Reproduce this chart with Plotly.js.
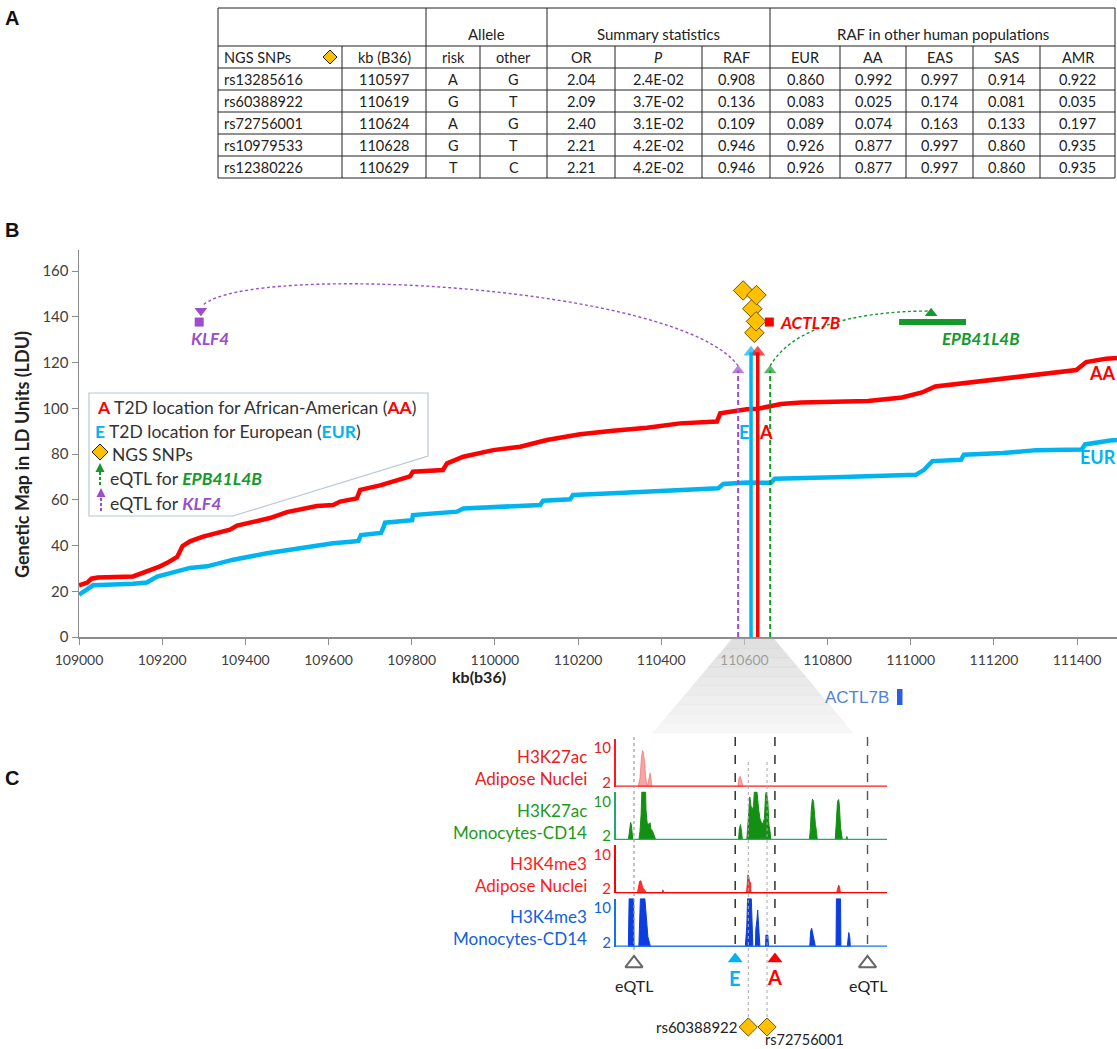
<!DOCTYPE html>
<html><head><meta charset="utf-8">
<script src="https://cdn.plot.ly/plotly-3.0.1.min.js"></script>
<style>html,body{margin:0;padding:0;background:#fff;}#chart{width:1117px;height:1049px;}</style>
</head><body><div id="chart"></div>
<script>
const W=1117,H=1049;
const px=x=>x/W, py=y=>1-y/H;
const F='Lato, "Open Sans", sans-serif';
const FA='"Liberation Sans", Arial, sans-serif';
const RED='#ff0000', CYAN='#00b4f0', PURPLE='#9b4dca', GREEN='#139a2a', GOLD='#ffc000', DARK='#333333';

// ---------- Panel A data ----------
const snpIds=['rs13285616','rs60388922','rs72756001','rs10979533','rs12380226'];
const snpKb=[110597,110619,110624,110628,110629];
const riskAllele=['A','G','A','G','T'];
const otherAllele=['G','T','G','T','C'];
const oddsRatio=[2.04,2.09,2.40,2.21,2.21];
const pValue=['2.4E-02','3.7E-02','3.1E-02','4.2E-02','4.2E-02'];
const rafCase=[0.908,0.136,0.109,0.946,0.946];
const rafEUR=[0.860,0.083,0.089,0.926,0.926];
const rafAA=[0.992,0.025,0.074,0.877,0.877];
const rafEAS=[0.997,0.174,0.163,0.997,0.997];
const rafSAS=[0.914,0.081,0.133,0.860,0.860];
const rafAMR=[0.922,0.035,0.197,0.935,0.935];
const headerLabels=['NGS SNPs','kb (B36)','risk','other','OR','<i>P</i>','RAF','EUR','AA','EAS','SAS','AMR'];
const groupLabels=['Allele','Summary statistics','RAF in other human populations'];

// ---------- Panel B data ----------
const aaKb=[109000,109020,109030,109045,109130,109154,109178,109195,109212,109236,109249,109267,109298,109363,109380,109435,109459,109500,109539,109572,109611,109628,109668,109676,109724,109796,109803,109875,109885,109924,109996,110061,110125,110205,110284,110366,110445,110534,110542,110606,110633,110688,110736,110897,110979,111027,111059,111124,111237,111398,111422,111470,111496];
const aaLdu=[22.6,23.8,25.5,26.0,26.5,28.1,29.6,30.9,32.4,35.0,39.8,41.8,43.9,46.9,48.7,51.1,52.0,54.6,55.9,57.3,57.7,59.2,60.6,64.3,66.3,70.2,72.3,73.0,75.9,78.8,81.7,83.2,86.1,88.6,90.2,91.5,93.4,94.2,97.8,99.6,99.8,101.9,102.5,103.2,104.7,106.9,109.5,110.9,113.5,116.7,120.2,121.7,122.0];
const eurKb=[109000,109022,109034,109130,109163,109188,109226,109267,109308,109371,109452,109532,109611,109660,109672,109678,109726,109731,109736,109801,109803,109909,109924,110109,110116,110181,110188,110284,110405,110537,110549,110606,110664,110673,110818,111012,111032,111052,111121,111128,111222,111302,111411,111419,111480,111496];
const eurLdu=[18.5,21.2,22.6,23.3,23.8,26.4,28.4,30.2,30.9,33.8,36.6,39.0,41.0,41.8,42.0,44.6,45.5,47.4,50.0,51.1,53.3,54.8,56.2,57.7,59.6,60.2,62.1,62.8,63.8,65.0,66.9,67.5,67.4,69.2,69.8,70.9,73.1,76.9,77.5,79.7,80.4,81.7,82.0,84.2,85.9,86.1];
const snpStackLdu=[151.5,143.5,133.0,138.0,149.5];
const t2dKb=[110616,110632];            // E (EUR), A (AA)
const t2dTopLdu=[124.5,124.5];
const eqtlKb=[110585,110662];           // KLF4 eQTL, EPB41L4B eQTL
const eqtlTopLdu=[116.5,116.5];
const geneRowLdu=137.7;
const klf4Kb=109289, actl7bKb=110660, epbKb=[110972,111133];
const xTicks=[109000,109200,109400,109600,109800,110000,110200,110400,110600,110800,111000,111200,111400];
const yTicks=[0,20,40,60,80,100,120,140,160];

// ---------- Panel C data ----------
const t1Pos=[110589.6,110590.1,110590.5,110590.8,110591.0,110591.3,110591.6,110591.8,110592.1,110592.5,110592.8,110593.0,110593.3,110616.2,110616.5,110616.8,110617.2,110617.6];
const t1Val=[1,3,8,9.4,9,7,3.5,2,1.3,3.5,4.2,3,1,1,3.0,3.4,2.5,1];
const t2Pos=[110587.0,110587.3,110587.6,110587.8,110588.1,110588.2,110589.8,110590.1,110590.4,110590.6,110591.6,110591.7,110592.0,110592.5,110592.8,110593.0,110593.4,110593.8,110594.2,110594.6,110616.4,110616.6,110616.9,110617.2,110617.4,110618.6,110618.9,110619.0,110619.3,110619.4,110619.7,110620.0,110620.4,110620.6,110621.3,110621.6,110621.8,110622.1,110622.5,110622.9,110623.3,110623.6,110623.8,110624.2,110624.5,110624.8,110625.0,110635.3,110635.6,110635.8,110636.1,110636.4,110636.6,110636.9,110637.2,110637.4,110642.2,110642.5,110642.8,110643.1,110643.3,110643.6,110643.8,110644.1,110645.0,110645.3,110645.6];
const t2Val=[1,3,5.1,4.5,1.5,1,1,3,6.9,12.2,12.2,8,5,4.6,5,3.5,3.2,2,1.3,1,1,3.5,4.6,3,1,1,5,6.4,9,11,9,7.8,9,12.2,12.2,9,7.8,6,5,4.8,6,11.5,12.2,10,4.5,3,1,1,4,8,10.5,10,7,4.6,3,1,1,5,10,10.4,9,4,2.5,1,1,1.8,1];
const t3Pos=[110589.4,110589.7,110590.0,110590.3,110590.5,110590.8,110591.2,110591.6,110592.0,110596.0,110596.2,110596.5,110618.5,110618.7,110618.9,110619.1,110619.3,110619.6,110619.7,110642.5,110642.8,110643.1,110643.3,110643.6];
const t3Val=[1,2.5,3.8,3.9,3.5,2.3,1.8,1.4,1,1,1.8,1,1,3,5.3,5.0,3.8,3.5,1,1,2.2,2.9,2.6,1];
const t4Pos=[110587.0,110587.2,110588.4,110588.5,110589.8,110590.0,110590.2,110591.4,110591.7,110592.0,110592.2,110592.6,110592.9,110618.2,110618.4,110618.6,110618.8,110619.8,110620.1,110620.2,110620.9,110621.0,110621.3,110621.5,110621.7,110622.0,110622.1,110623.6,110623.7,110624.2,110624.4,110635.4,110635.6,110635.9,110636.2,110636.5,110636.9,110642.4,110642.5,110643.6,110643.7,110645.4,110645.6,110645.8,110646.1,110646.2];
const t4Val=[1,12.2,12.2,1,1,7,12.2,12.2,8,5.6,3.3,2,1,1,3.9,5.8,12.2,12.2,4,1,1,5,7.2,9.5,6.5,3,1,1,3.7,3.7,1,1,4.5,5.3,4,2.5,1,1,12.2,12.2,1,1,3.5,4.3,3,1];
const trackNames=[['H3K27ac','Adipose Nuclei'],['H3K27ac','Monocytes-CD14'],['H3K4me3','Adipose Nuclei'],['H3K4me3','Monocytes-CD14']];
const cEqtlKb=[110588.5,110650.8];
const cT2dKb=[110615.5,110626.1];     // E, A
const cSnpKb=[110619,110624];
const cSnpNames=['rs60388922','rs72756001'];

// ---------- layout geometry ----------
const trackBase=[786.7,840,893.3,946.7];
const trackH=48.2;
const trackFill=['rgba(238,90,90,0.55)','#138f13','rgba(255,25,25,0.9)','#0b3de0'];
const trackAxis=['#ff1a1a','#22aa6e','#ff0000','#1a72e0'];
const trackLabel=['#e8201a','#1a9a1a','#ff1a1a','#1060e0'];
const colEdges=[218,342,426,480,547,615,702,770,840,906,973,1040,1115];
const groupCols=[[2,3],[4,6],[7,11]];
const tblTop=8, grpBottom=46, rowH=22;

const traces=[];
traces.push({type:'scatter',mode:'lines',x:aaKb,y:aaLdu,line:{color:RED,width:4.5},xaxis:'x',yaxis:'y',hoverinfo:'skip'});
traces.push({type:'scatter',mode:'lines',x:eurKb,y:eurLdu,line:{color:CYAN,width:4.5},xaxis:'x',yaxis:'y',hoverinfo:'skip'});
traces.push({type:'scatter',mode:'markers',x:t2dKb.concat(eqtlKb),y:t2dTopLdu.concat(eqtlTopLdu),
  marker:{symbol:'triangle-up',size:[13,13,11,11],color:[CYAN,RED,PURPLE,GREEN],line:{width:0}},xaxis:'x',yaxis:'y',hoverinfo:'skip'});
traces.push({type:'scatter',mode:'markers',x:snpKb,y:snpStackLdu,marker:{symbol:'diamond',size:15,color:GOLD,line:{color:'#6b5200',width:1}},xaxis:'x',yaxis:'y',hoverinfo:'skip'});
traces.push({type:'scatter',mode:'markers',x:[klf4Kb,actl7bKb],y:[geneRowLdu,geneRowLdu],marker:{symbol:'square',size:9,color:[PURPLE,RED]},xaxis:'x',yaxis:'y',hoverinfo:'skip'});
traces.push({type:'scatter',mode:'lines',x:epbKb,y:[geneRowLdu,geneRowLdu],line:{color:GREEN,width:6},xaxis:'x',yaxis:'y',hoverinfo:'skip'});
traces.push({type:'scatter',mode:'markers',x:[klf4Kb+4,111049],y:[142.6,141.6],marker:{symbol:['triangle-down','triangle-up'],size:11,color:[PURPLE,GREEN]},xaxis:'x',yaxis:'y',hoverinfo:'skip'});

const tPos=[t1Pos,t2Pos,t3Pos,t4Pos], tVal=[t1Val,t2Val,t3Val,t4Val];
for(let i=0;i<4;i++){
  traces.push({type:'scatter',mode:'lines',x:tPos[i],y:tVal[i],fill:'tozeroy',fillcolor:trackFill[i],
    line:{color:trackFill[i],width:1},xaxis:'x2',yaxis:'y'+(i+2),hoverinfo:'skip'});
}
traces.push({type:'scatter',mode:'markers',x:cT2dKb,y:[0,0],marker:{symbol:'triangle-up',size:13,color:[CYAN,RED]},xaxis:'x2',yaxis:'y6',hoverinfo:'skip'});
traces.push({type:'scatter',mode:'markers',x:cEqtlKb,y:[-0.4,-0.4],marker:{symbol:'triangle-up-open',size:15,color:'#666',line:{width:2,color:'#666'}},xaxis:'x2',yaxis:'y6',hoverinfo:'skip'});
traces.push({type:'scatter',mode:'markers',x:cSnpKb,y:[0,0],marker:{symbol:'diamond',size:14,color:GOLD,line:{color:'#6b5200',width:1}},xaxis:'x2',yaxis:'y7',hoverinfo:'skip'});

// ---------- shapes ----------
const shapes=[];
function pline(x0,y0,x1,y1,color,width,dash){shapes.push({type:'line',xref:'paper',yref:'paper',x0:px(x0),y0:py(y0),x1:px(x1),y1:py(y1),line:{color,width,dash:dash||'solid'},layer:'above'});}
function ppath(pts,fill,lineColor,lw){let d='M '+pts.map(p=>px(p[0])+','+py(p[1])).join(' L ')+' Z';
  shapes.push({type:'path',xref:'paper',yref:'paper',path:d,fillcolor:fill,line:{color:lineColor||fill,width:lw==null?0:lw},layer:'above'});}

// table grid
const nRows=snpIds.length;
const tblBottom=grpBottom+rowH*(nRows+1);
pline(colEdges[0],tblTop,colEdges[colEdges.length-1],tblTop,'#222',1);
for(let r=0;r<=nRows+1;r++){const y=grpBottom+rowH*r;pline(colEdges[0],y,colEdges[colEdges.length-1],y,'#222',1);}
colEdges.forEach(x=>pline(x,grpBottom,x,tblBottom,'#222',1));
[colEdges[0]].concat(groupCols.map(g=>colEdges[g[0]]),[colEdges[colEdges.length-1]]).forEach(x=>pline(x,tblTop,x,grpBottom,'#222',1));
ppath([[330,50],[337,57],[330,64],[323,57]],GOLD,'#222',1);

// Panel B arrows
shapes.push({type:'line',xref:'x',yref:'y',x0:t2dKb[0],x1:t2dKb[0],y0:0,y1:t2dTopLdu[0],line:{color:CYAN,width:3.5}});
shapes.push({type:'line',xref:'x',yref:'y',x0:t2dKb[1],x1:t2dKb[1],y0:0,y1:t2dTopLdu[1],line:{color:RED,width:3.5}});
shapes.push({type:'line',xref:'x',yref:'y',x0:eqtlKb[0],x1:eqtlKb[0],y0:0,y1:eqtlTopLdu[0],line:{color:PURPLE,width:2,dash:'5px,3px'}});
shapes.push({type:'line',xref:'x',yref:'y',x0:eqtlKb[1],x1:eqtlKb[1],y0:0,y1:eqtlTopLdu[1],line:{color:GREEN,width:2,dash:'5px,3px'}});
shapes.push({type:'path',xref:'x',yref:'y',path:`M ${eqtlKb[0]},118.5 C 110445,153.9 109411,163.9 ${klf4Kb+9},145.1`,line:{color:PURPLE,width:1.4,dash:'3px,2.5px'}});
shapes.push({type:'path',xref:'x',yref:'y',path:`M ${eqtlKb[1]},118.5 C 110710,134.2 110854,142.5 111042,142.5`,line:{color:GREEN,width:1.4,dash:'3px,2.5px'}});

// legend callout
ppath([[89,393],[428,393],[428,456],[233,516],[89,516]],'white','#b9c6d4',1.2);
ppath([[100,444],[108,452],[100,460],[92,452]],GOLD,'#222',1);
pline(100,485,100,471,GREEN,2,'3px,2px');
ppath([[95.5,472],[104.5,472],[100,463]],GREEN,GREEN,0);
pline(101,511,101,497,PURPLE,2,'3px,2px');
ppath([[96.5,497],[105.5,497],[101,488]],PURPLE,PURPLE,0);

// funnel
const nB=10;
for(let i=0;i<nB;i++){
  const ya=639+94*i/nB, yb=639+94*(i+1)/nB;
  const la=732-79*i/nB, lb=732-79*(i+1)/nB, ra=774+79*i/nB, rb=774+79*(i+1)/nB;
  const g=Math.round(205+40*i/nB);
  ppath([[la,ya],[ra,ya],[rb,yb],[lb,yb]],`rgba(${g},${g},${g},0.62)`,`rgba(${g},${g},${g},0.62)`,0.5);
}
shapes.push({type:'rect',xref:'paper',yref:'paper',x0:px(897),x1:px(902.5),y0:py(705),y1:py(689),fillcolor:'#2a5fd6',line:{width:0},layer:'above'});

for(let i=0;i<4;i++){
  shapes.push({type:'line',xref:'x2 domain',yref:'y'+(i+2),x0:0,x1:1,y0:1,y1:1,line:{color:trackAxis[i],width:2.5},layer:'above'});
}
function cline(kb,y0,y1,color,w,dash){shapes.push({type:'line',xref:'x2',yref:'paper',x0:kb,x1:kb,y0:py(y0),y1:py(y1),line:{color,width:w,dash},layer:'above'});}
cline(cEqtlKb[0],737,953,'#9a9a9a',1.2,'dot');
cline(cEqtlKb[1],737,953,'#555',1.4,'dash');
cline(cT2dKb[0],737,951,'#222',1.4,'dash');
cline(cT2dKb[1],737,951,'#222',1.4,'dash');
cline(cSnpKb[0],762,1020,'#a8a8a8',1,'dot');
cline(cSnpKb[1],762,1020,'#a8a8a8',1,'dot');

// ---------- annotations ----------
const ann=[];
function pa(x,y,text,size,color,opts){ann.push(Object.assign({xref:'paper',yref:'paper',x:px(x),y:py(y),text,showarrow:false,xanchor:'center',yanchor:'middle',font:{family:F,size,color}},opts||{}));}
function da(x,y,text,size,color,opts){ann.push(Object.assign({xref:'x',yref:'y',x,y,text,showarrow:false,xanchor:'center',yanchor:'middle',font:{family:F,size,color}},opts||{}));}
const sp=(c,t)=>`<span style="color:${c}">${t}</span>`;

pa(12,18,'<b>A</b>',20,'#111',{font:{family:FA,size:20,color:'#111'}});
pa(12,230,'<b>B</b>',20,'#111',{font:{family:FA,size:20,color:'#111'}});
pa(12,778,'<b>C</b>',20,'#111',{font:{family:FA,size:20,color:'#111'}});

// table text
groupLabels.forEach((g,i)=>{const c=groupCols[i];pa((colEdges[c[0]]+colEdges[c[1]+1])/2,34,g,15,'#222');});
const cols=[snpIds,snpKb.map(String),riskAllele,otherAllele,oddsRatio.map(v=>v.toFixed(2)),pValue,
  rafCase.map(v=>v.toFixed(3)),rafEUR.map(v=>v.toFixed(3)),rafAA.map(v=>v.toFixed(3)),rafEAS.map(v=>v.toFixed(3)),rafSAS.map(v=>v.toFixed(3)),rafAMR.map(v=>v.toFixed(3))];
headerLabels.forEach((h,c)=>{
  const xc=c===0?colEdges[0]+4:(colEdges[c]+colEdges[c+1])/2;
  pa(xc,grpBottom+rowH/2+0.5,h,14.5,'#222',{xanchor:c===0?'left':'center'});
  cols[c].forEach((v,r)=>pa(xc,grpBottom+rowH*(r+1)+rowH/2+0.5,v,14.5,'#222',{xanchor:c===0?'left':'center'}));
});

pa(22,455,'<b>Genetic Map in LD Units (LDU)</b>',18,'#222',{textangle:-90});
pa(479,676,'<b>kb(b36)</b>',16,'#222');

pa(95,407,sp(RED,'<b>A</b>')+' T2D location for African-American ('+sp(RED,'<b>AA</b>')+')',17.5,DARK,{xanchor:'left'});
pa(93,431,sp(CYAN,'<b>E</b>')+' T2D location for European ('+sp(CYAN,'<b>EUR</b>')+')',17.5,DARK,{xanchor:'left'});
pa(110,454,'NGS SNPs',17.5,DARK,{xanchor:'left'});
pa(108,478,'eQTL for '+sp(GREEN,'<b><i>EPB41L4B</i></b>'),17.5,DARK,{xanchor:'left'});
pa(108,503,'eQTL for '+sp(PURPLE,'<b><i>KLF4</i></b>'),17.5,DARK,{xanchor:'left'});

pa(1118,373,'<b>AA</b>',18,RED,{xanchor:'right'});
pa(1118,457,'<b>EUR</b>',18,CYAN,{xanchor:'right'});
da(110599,89.5,'<b>E</b>',18,CYAN);
da(110651,89.5,'<b>A</b>',18,RED);
da(klf4Kb+26,130.3,'<b><i>KLF4</i></b>',17,PURPLE);
da(actl7bKb+20,geneRowLdu,'<b><i>ACTL7B</i></b>',17,RED,{xanchor:'left'});
da(111169,130.3,'<b><i>EPB41L4B</i></b>',17,GREEN);
pa(857,697,'ACTL7B',17,'#4a80dc',{font:{family:FA,size:17,color:'#4f82d8'}});

trackNames.forEach((n,i)=>{
  const b=trackBase[i];
  pa(589,b-30,n[0],17,trackLabel[i],{xanchor:'right'});
  pa(589,b-8,n[1],17,trackLabel[i],{xanchor:'right'});
});
ann.push({xref:'x2',yref:'paper',x:cEqtlKb[0],y:py(985),text:'eQTL',showarrow:false,yanchor:'middle',font:{family:F,size:16,color:'#222'}});
ann.push({xref:'x2',yref:'paper',x:cEqtlKb[1],y:py(985),text:'eQTL',showarrow:false,yanchor:'middle',font:{family:F,size:16,color:'#222'}});
ann.push({xref:'x2',yref:'paper',x:cT2dKb[0],y:py(978),text:'<b>E</b>',showarrow:false,yanchor:'middle',font:{family:F,size:20,color:CYAN}});
ann.push({xref:'x2',yref:'paper',x:cT2dKb[1],y:py(977),text:'<b>A</b>',showarrow:false,yanchor:'middle',font:{family:F,size:20,color:RED}});
ann.push({xref:'x2',yref:'paper',x:cSnpKb[0]-2.2,y:py(1027),text:cSnpNames[0],showarrow:false,xanchor:'right',yanchor:'middle',font:{family:F,size:15,color:'#222'}});
ann.push({xref:'x2',yref:'paper',x:cSnpKb[1]-1.2,y:py(1039),text:cSnpNames[1],showarrow:false,xanchor:'left',yanchor:'middle',font:{family:F,size:14.5,color:'#222'}});

const layout={
  width:W,height:H,margin:{l:0,r:0,t:0,b:0,pad:0},paper_bgcolor:'white',plot_bgcolor:'rgba(0,0,0,0)',showlegend:false,
  font:{family:F},
  xaxis:{domain:[px(79),1],range:[109000,111496],anchor:'y',showline:true,linecolor:'#8c8c8c',linewidth:1.5,
    ticks:'outside',ticklen:6,tickcolor:'#8c8c8c',tickvals:xTicks,ticktext:xTicks.map(String),
    tickfont:{family:F,size:14,color:'#404040'},ticklabelstandoff:4,showgrid:false,zeroline:false,fixedrange:true},
  yaxis:{domain:[py(637),py(250)],range:[0,169.2],anchor:'x',showline:true,linecolor:'#8c8c8c',linewidth:1.5,
    ticks:'outside',ticklen:6,tickcolor:'#8c8c8c',tickvals:yTicks,ticktext:yTicks.map(String),
    tickfont:{family:F,size:15,color:'#404040'},showgrid:false,zeroline:false,fixedrange:true},
  xaxis2:{domain:[px(616),px(887)],range:[110583.7,110656.0],anchor:'y5',visible:false,fixedrange:true},
  yaxis6:{domain:[py(970),py(948)],range:[-1,1],anchor:'x2',visible:false},
  yaxis7:{domain:[py(1037),py(1017)],range:[-1,1],anchor:'x2',visible:false},
  shapes,annotations:ann
};
for(let i=0;i<4;i++){
  layout['yaxis'+(i+2)]={domain:[py(trackBase[i]),py(trackBase[i]-trackH)],range:[1,12.2],anchor:'x2',
    showline:true,linecolor:trackAxis[i],linewidth:2,ticks:'',tickvals:[2,10],ticktext:['2','10'],
    tickfont:{family:F,size:15,color:trackLabel[i]},showgrid:false,zeroline:false,fixedrange:true};
}
Plotly.newPlot('chart',traces,layout,{displayModeBar:false,staticPlot:true});
</script></body></html>
